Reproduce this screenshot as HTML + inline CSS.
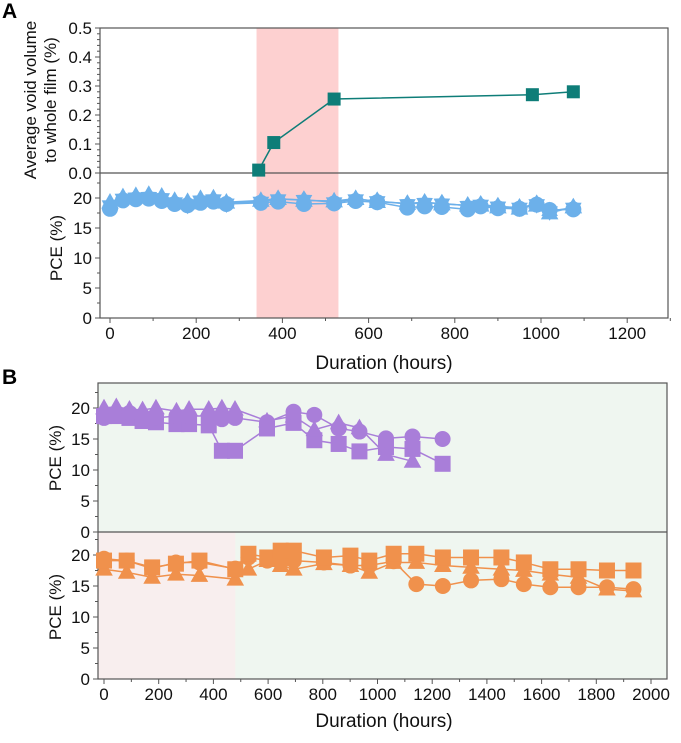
<!DOCTYPE html>
<html><head><meta charset="utf-8"><style>
html,body{margin:0;padding:0;background:#fff;}
svg{display:block;font-family:"Liberation Sans",Arial,sans-serif;}
</style></head><body>
<svg id="chart" width="681" height="743" viewBox="0 0 681 743">
<g id="g"></g>
</svg>
<script>
// ---------- data ----------
const voidHours=[345,380,520,980,1075];
const voidVals=[0.01,0.105,0.255,0.27,0.28];

const aHours=[0,30,60,90,120,150,180,210,240,270,350,390,450,520,570,620,690,730,770,830,860,900,950,990,1020,1075];
const aCircle=[18.2,19.6,19.8,19.9,19.5,19.0,18.8,19.2,19.4,19.0,19.2,19.4,19.0,19.1,19.5,19.3,18.4,18.6,18.5,18.1,18.6,18.3,18.2,18.9,18.0,18.1];
const aStar=[18.8,19.9,20.1,20.2,20.0,19.3,18.9,19.6,19.8,19.1,19.4,19.8,19.7,19.3,19.8,19.5,19.0,19.2,19.1,18.7,18.9,18.6,18.4,19.0,17.8,18.4];
const aTri=[19.3,20.2,20.4,20.6,20.3,19.6,19.4,19.9,20.0,19.3,19.6,19.9,19.6,19.5,19.9,19.4,19.1,19.3,19.0,18.8,18.8,18.5,18.3,18.8,17.5,18.5];

const pHours=[0,45,93,141,190,265,311,383,431,479,596,693,769,858,934,1031,1128,1238];
const pCircle=[18.4,19.2,19.2,18.7,18.4,18.7,18.7,18.7,18.2,18.4,17.7,19.4,18.9,16.7,16.2,15.1,15.4,15.0];
const pSquare=[18.7,18.7,18.4,17.9,17.7,17.4,17.4,17.2,13.1,13.1,16.7,17.6,14.8,14.2,13.0,13.7,13.4,11.0];
const pTri=[20.0,20.2,19.8,19.7,20.0,19.5,19.8,19.8,20.0,19.8,17.9,18.7,16.5,17.6,16.8,12.5,11.4,null];

const oHours=[0,83,176,263,349,480,528,597,646,694,804,901,970,1059,1142,1239,1342,1453,1535,1632,1735,1839,1936];
const oSquare=[19.1,19.1,18.0,18.6,19.1,17.7,20.2,19.6,20.7,20.7,19.6,19.9,19.1,20.2,20.2,19.6,19.6,19.6,18.8,17.7,17.7,17.5,17.5];
const oCircle=[19.4,19.1,17.8,18.8,18.8,17.8,19.6,19.1,18.8,19.1,18.8,18.3,18.3,19.0,15.3,15.0,15.9,16.1,15.3,14.8,14.8,14.8,14.5];
const oTri=[17.7,17.2,16.4,16.9,16.7,16.1,17.7,19.1,18.3,17.7,18.6,18.3,17.2,18.8,18.8,18.3,18.0,17.7,17.5,16.9,16.4,14.5,14.2];

const aTicksX=[0,200,400,600,800,1000,1200];
const bTicksX=[0,200,400,600,800,1000,1200,1400,1600,1800,2000];
const voidTicks=[0,0.1,0.2,0.3,0.4,0.5];
const pceTicks=[0,5,10,15,20];

// ---------- helpers ----------
const NS="http://www.w3.org/2000/svg";
const G=document.getElementById('g');
function el(tag,attrs,parent,txt){const e=document.createElementNS(NS,tag);for(const k in attrs)e.setAttribute(k,attrs[k]);if(txt!==undefined)e.textContent=txt;(parent||G).appendChild(e);return e;}

const axA=h=>110+h*0.431;
const yVoid=v=>173-v*290;
const yPceA=v=>318-v*6;
const axB=h=>104+h*0.2735;
const yPceB1=v=>532-v*6.2;
const yPceB2=v=>679-v*6.2;

// ---------- backgrounds ----------
let r;
r=el('rect',{x:axA(340),y:28,width:axA(530)-axA(340),height:290,fill:'#fdd0d0'});


r=el('rect',{x:98,y:383,width:569,height:296,fill:'#eff6f0'});


r=el('rect',{x:98,y:532,width:axB(480)-98,height:147,fill:'#f8eeee'});



// ---------- frames ----------
r=el('rect',{x:100,y:28,width:568,height:290,fill:'none',stroke:'#555','stroke-width':1.2});


el('line',{x1:100,x2:668,y1:173,y2:173,stroke:'#555','stroke-width':1.2});
r=el('rect',{x:98,y:383,width:569,height:296,fill:'none',stroke:'#555','stroke-width':1.2});


el('line',{x1:98,x2:667,y1:532,y2:532,stroke:'#555','stroke-width':1.2});

// ---------- axes ticks ----------
function yTicks(x,ticks,sc,fmt,name,minor){
  ticks.forEach(t=>{
    const y=sc(t);
    el('line',{x1:x-5,x2:x,y1:y,y2:y,stroke:'#555'});
    const tx=el('text',{x:x-8,y:y+6,'text-anchor':'end','font-size':17,fill:'#111'},G,fmt(t));
    
    
  });
  minor.forEach(t=>{const y=sc(t);el('line',{x1:x-3,x2:x,y1:y,y2:y,stroke:'#555'});});
}
const minVoid=[];for(let i=0;i<25;i++)minVoid.push(i*0.02);
yTicks(100,voidTicks,yVoid,t=>t.toFixed(1),'void-y',minVoid);
yTicks(100,pceTicks,yPceA,t=>String(t),'pce-a-y',[2.5,7.5,12.5,17.5,22.5]);
yTicks(98,pceTicks,yPceB1,t=>String(t),'pce-b1-y',[2.5,7.5,12.5,17.5,22.5]);
yTicks(98,pceTicks,yPceB2,t=>String(t),'pce-b2-y',[2.5,7.5,12.5,17.5,22.5]);

function xTicks(y,ticks,sc,name,step){
  ticks.forEach(t=>{
    const x=sc(t);
    el('line',{x1:x,x2:x,y1:y,y2:y+5,stroke:'#555'});
    const tx=el('text',{x:x,y:y+21,'text-anchor':'middle','font-size':17,fill:'#111'},G,String(t));
    
    
    if(t<ticks[ticks.length-1]){const mx=sc(t+step/2);el('line',{x1:mx,x2:mx,y1:y,y2:y+3,stroke:'#555'});}
  });
}
xTicks(318,aTicksX,axA,'a-x',200);
el('line',{x1:axA(1300),x2:axA(1300),y1:318,y2:321,stroke:'#555'});
xTicks(679,bTicksX,axB,'b-x',200);

// ---------- titles ----------
function txt(attrs,s,name){const t=el('text',attrs,G,s);return t;}
txt({x:2,y:18,'font-size':21,'font-weight':'bold',fill:'#000'},'A','panel-a-label');
txt({x:2,y:384,'font-size':21,'font-weight':'bold',fill:'#000'},'B','panel-b-label');
txt({x:0,y:0,'font-size':17,'text-anchor':'middle',fill:'#111',transform:'translate(36,100) rotate(-90)'},'Average void volume','void-y-title-line1');
txt({x:0,y:0,'font-size':17,'text-anchor':'middle',fill:'#111',transform:'translate(56,100) rotate(-90)'},'to whole film (%)','void-y-title-line2');
txt({x:0,y:0,'font-size':17,'text-anchor':'middle',fill:'#111',transform:'translate(62,248) rotate(-90)'},'PCE (%)','pce-a-y-title');
txt({x:0,y:0,'font-size':17,'text-anchor':'middle',fill:'#111',transform:'translate(61,458) rotate(-90)'},'PCE (%)','pce-b1-y-title');
txt({x:0,y:0,'font-size':17,'text-anchor':'middle',fill:'#111',transform:'translate(61,607) rotate(-90)'},'PCE (%)','pce-b2-y-title');
txt({x:384,y:369,'font-size':19,'text-anchor':'middle',fill:'#111'},'Duration (hours)','a-x-title');
txt({x:384,y:727,'font-size':19,'text-anchor':'middle',fill:'#111'},'Duration (hours)','b-x-title');

// ---------- series ----------
function marker(shape,x,y,s,col,name){
  let m;
  if(shape==='square') m=el('rect',{x:x-s,y:y-s,width:2*s,height:2*s,fill:col});
  else if(shape==='circle') m=el('circle',{cx:x,cy:y,r:s,fill:col});
  else if(shape==='tri') m=el('polygon',{points:`${x},${y-s*1.15} ${x-s*1.1},${y+s*0.8} ${x+s*1.1},${y+s*0.8}`,fill:col});
  else if(shape==='star'){
    const p=[];for(let i=0;i<12;i++){const a=-Math.PI/2+i*Math.PI/6;const rr=i%2?s*0.72:s*1.2;p.push((x+rr*Math.cos(a)).toFixed(1)+','+(y+rr*Math.sin(a)).toFixed(1));}
    m=el('polygon',{points:p.join(' '),fill:col});
  }
  
  
}
function series(hours,vals,sx,sy,shape,s,col,name,line){
  const pts=[];hours.forEach((h,i)=>{if(vals[i]!==null)pts.push([sx(h),sy(vals[i])]);});
  const pl=el('polyline',{points:pts.map(p=>p.join(',')).join(' '),fill:'none',stroke:line||col,'stroke-width':1.5});
  
  
  pts.forEach(p=>marker(shape,p[0],p[1],s,col,name+'-point'));
}
series(aHours,aCircle,axA,yPceA,'circle',8,'#6cb0ea','pce-a-circle');
series(aHours,aTri,axA,yPceA,'tri',8,'#6cb0ea','pce-a-triangle');
series(aHours,aStar,axA,yPceA,'star',8,'#6cb0ea','pce-a-star');
series(voidHours,voidVals,axA,yVoid,'square',6.5,'#0e7d78','void-volume');

series(pHours,pSquare,axB,yPceB1,'square',8,'#a97ed9','pce-b1-square');
series(pHours,pTri,axB,yPceB1,'tri',8,'#a97ed9','pce-b1-triangle');
series(pHours,pCircle,axB,yPceB1,'circle',8,'#a97ed9','pce-b1-circle');

series(oHours,oTri,axB,yPceB2,'tri',8,'#f0914c','pce-b2-triangle');
series(oHours,oCircle,axB,yPceB2,'circle',8,'#f0914c','pce-b2-circle');
series(oHours,oSquare,axB,yPceB2,'square',8,'#f0914c','pce-b2-square');
</script>
</body></html>
